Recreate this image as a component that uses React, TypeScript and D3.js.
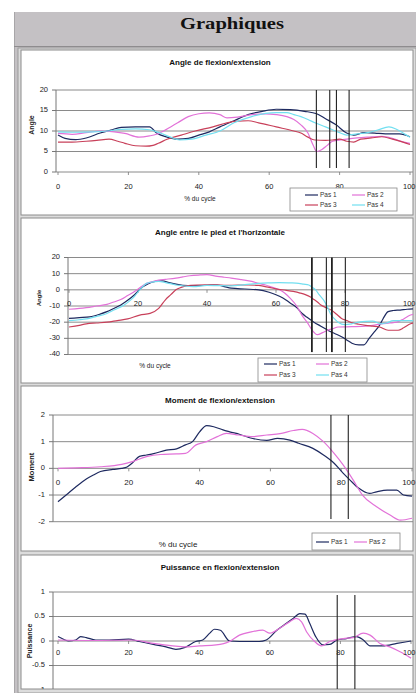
import React from "react";
import * as d3 from "d3";

// ---------- data ----------
const seriesNames = ["Pas 1", "Pas 2", "Pas 3", "Pas 4"];
const xTicks = [0, 20, 40, 60, 80, 100];

const flexPas1: [number, number][] = [[0,9],[2,8.2],[5,7.9],[8,8.3],[12,9.5],[15,10.2],[18,10.9],[22,11],[26,11],[28,9.5],[31,8.5],[34,8],[37,8.2],[40,9],[43,9.8],[46,11],[50,12.5],[54,14],[58,14.8],[62,15.3],[66,15.2],[70,14.8],[73.5,14.2],[76,13],[79,11.5],[82,9.5],[84,9],[87,9.6],[90,9.5],[93,9.3],[97,9.3],[100,8.6]];
const flexPas2: [number, number][] = [[0,9.4],[4,9.2],[8,9.6],[12,10],[16,9.8],[19,9.4],[23,8.5],[26,8.8],[28,9.2],[30,10],[32,11],[34,12],[37,13.5],[40,14.2],[43,14.4],[46,14],[48,13.2],[51,13.4],[55,14],[59,14.2],[62,14],[65,13.5],[67,12.8],[69,11.5],[71,9.5],[72.5,6.5],[73.5,5],[75,5.5],[76.5,6.5],[78,7.5],[82,8],[85,8.3],[88,8.5],[92,8.7],[95,8.2],[97,7.6],[100,7]];
const flexPas3: [number, number][] = [[0,7.3],[4,7.3],[8,7.5],[11,7.7],[14.5,8],[17,7.5],[19,7],[22,6.4],[25,6.3],[27,6.5],[28.5,7],[31,8],[35,9],[39,10],[44,11],[48,12],[51,12.4],[54,12.5],[57,12],[62,11],[67,10],[69,9.5],[71,8.5],[73,7.8],[76,7.7],[78,7.8],[80,8],[82,7.5],[84,7.3],[86,8],[89,8.3],[92,8.6],[95,8],[98,7.3],[100,6.7]];
const flexPas4: [number, number][] = [[0,9.8],[5,9.7],[10,9.8],[14,10],[18,10.4],[22,10.5],[26,10.3],[29,9.5],[32,8.5],[34.5,7.8],[38,8],[42,9],[46,10],[50,12],[55,13.5],[59,14.3],[62,14.5],[65,14.5],[67,14],[69,13.5],[71,12.8],[73,12],[76,11],[78,10.3],[80,9.6],[82,9],[85,9.3],[88,9.6],[91,10.3],[94,11],[96,10.5],[98,9.5],[100,8.5]];

const piedPas1: [number, number][] = [[0,-17.7],[3,-17.2],[6,-16.7],[9,-15],[11,-13.5],[13,-11.5],[15,-9.4],[17,-6.5],[19,-3],[21.5,2],[23,3.8],[25,5.2],[27,5.6],[29,4.5],[31,3.5],[33,2.8],[36,2.5],[40,2.8],[43,3],[45,2],[47,1],[51,0.5],[55,0],[58,-1.5],[60,-3],[62,-5],[64,-8],[66,-11],[67.5,-14.5],[69,-17],[71,-20],[73,-22.5],[75,-25],[77,-27],[79,-29],[80.5,-31],[82,-33],[84,-34],[85.5,-34],[87,-30],[88.5,-26],[90,-22],[91,-18],[92.5,-13.5],[94,-12.8],[96,-12.5],[98,-12],[100,-11.8]];
const piedPas2: [number, number][] = [[0,-12],[3,-11.5],[5,-11],[8,-10],[11,-9],[13,-7.5],[15,-6],[17,-3.5],[19,-1],[21,2],[22.5,4],[24,5],[26,6],[28,6.5],[31,7.3],[33,8],[35,8.7],[38,9.2],[40,9.4],[43,8.3],[45,7.8],[47,7.3],[50,6.3],[53,5.2],[55,4],[57,3],[59,1.5],[61,0],[62.5,-2],[64,-5],[66,-10],[67.5,-15.6],[69,-20],[70.5,-25],[72,-27.7],[73.5,-26.5],[75,-25],[76.5,-24],[78,-23],[82,-22.8],[86,-22.5],[88,-22],[90.5,-21],[93,-20.5],[95,-20],[97,-18],[99,-15.6],[100,-15]];
const piedPas3: [number, number][] = [[0,-23],[3,-22],[5,-21],[8,-20.5],[11,-20],[14,-19],[17,-18],[20.5,-15.6],[23.5,-14.6],[26,-11.5],[28,-6],[29.5,-3],[31,0],[32.5,1.5],[34,2.5],[37,3],[40,3.1],[43,3],[45.5,2.7],[49,3],[52,3],[55,2.7],[58,1.5],[60,0.6],[63,-0.3],[65,-1],[67,-2],[68.5,-3],[70,-4.5],[71,-6],[72,-7.5],[73,-9.4],[74.5,-11],[76,-12.5],[77.5,-15],[79,-17.7],[80.5,-19],[82,-20.4],[84,-21.3],[86,-22],[88,-22.5],[90,-23],[92.5,-25],[95.4,-25],[97,-23.5],[99,-21],[100,-20.5]];
const piedPas4: [number, number][] = [[0,-19],[3,-18.5],[5,-18],[8,-16.5],[11,-14.6],[13,-12.5],[16,-9.4],[17.5,-7],[19,-4],[20.5,0],[22.5,4],[24,4.8],[26,5.2],[28,4.5],[31,3],[33,2.5],[36,2],[40,2.7],[43,2.6],[47,2.5],[51,3.2],[55,4],[58,4.3],[61,4.5],[64,4.3],[66.6,4],[68,3.5],[69.5,3],[70.5,1.5],[71.5,0],[72.5,-3],[74,-7],[75,-11],[76,-15.6],[77,-18],[78,-20],[80,-21.5],[82,-21],[84,-20],[86,-19.5],[88,-19.4],[90.5,-21],[92,-20.5],[94,-19],[97,-19],[100,-19]];

const momentPas1: [number, number][] = [[0,-1.25],[2.3,-1],[5,-0.7],[8,-0.4],[10,-0.25],[12,-0.12],[15.5,-0.04],[18,0],[19.5,0.05],[21,0.2],[23,0.45],[25,0.5],[27,0.55],[30.6,0.68],[33.5,0.73],[36,0.88],[38,1],[40,1.37],[42,1.6],[44,1.56],[46.6,1.44],[48.5,1.37],[51.4,1.27],[55,1.12],[59,1.05],[62,1.12],[65.5,1.06],[68,0.94],[72,0.75],[75,0.5],[78,0.19],[80.6,-0.19],[82.5,-0.44],[85,-0.75],[88,-0.94],[90,-0.88],[93,-0.82],[95.7,-0.82],[97.6,-1],[100,-1.04]];
const momentPas2: [number, number][] = [[0,0],[5,0.02],[12,0.06],[18,0.15],[21,0.25],[25,0.44],[29,0.52],[33.5,0.54],[36,0.56],[39,0.88],[42,1],[45,1.19],[47.6,1.31],[51,1.25],[55,1.19],[59,1.25],[62.7,1.3],[66.5,1.42],[69,1.46],[72,1.31],[75,1],[78,0.56],[80.6,0.12],[83.4,-0.44],[86,-1],[90,-1.44],[93.8,-1.75],[96.7,-1.94],[100,-1.87]];

const puissPas1: [number, number][] = [[0,0.09],[1.7,0.03],[3,0],[5,0.02],[6.4,0.09],[8,0.07],[10.7,0.02],[14.5,0.02],[20,0.04],[23,-0.01],[27,-0.07],[30.6,-0.12],[33.4,-0.17],[36,-0.13],[39,-0.01],[41,0.02],[43,0.16],[44.3,0.24],[46,0.22],[48.6,0],[51.4,-0.01],[57,-0.01],[59,0.02],[62,0.22],[64.7,0.36],[66.6,0.46],[68.5,0.56],[70,0.55],[71.3,0.36],[73,0.09],[75,-0.08],[77,-0.07],[79,0.02],[81.7,0.05],[84.6,0.09],[86.5,0.02],[88.4,-0.1],[92,-0.1],[96,-0.05],[100,0]];
const puissPas2: [number, number][] = [[0,0.02],[10,0.01],[21,0.02],[27,-0.05],[32.5,-0.1],[36,-0.12],[40,-0.1],[44.8,-0.08],[48.6,-0.01],[51.4,0.12],[55,0.19],[58,0.22],[60,0.16],[62.8,0.26],[65.6,0.39],[67.5,0.46],[69,0.39],[70.4,0.19],[72.7,-0.01],[74.6,-0.1],[77,-0.01],[80.8,0.05],[83.6,0.07],[86.5,0.16],[88.4,0.12],[91.2,-0.05],[94,-0.12],[96.9,-0.22],[100,-0.35]];

const flexMarkers = [73.4, 77.2, 79.1, 82.7];
const piedMarkers = [70.4, 74.6, 76.2, 80.1];
const momentMarkers = [77.1, 82.0];
const puissMarkers = [79.1, 84.1];

const flexTicks = [0, 5, 10, 15, 20];
const piedTicks = [-40, -30, -20, -10, 0, 10, 20];
const momentTicks = [-2, -1, 0, 1, 2];
const puissTicks = [-1, -0.5, 0, 0.5, 1];

// ---------- styles ----------
const COLORS = ["#1e2a60", "#e272d8", "#c8405a", "#72dff0"];
const FONT = "Liberation Sans, Arial, sans-serif";

type PanelProps = {
  box: [number, number, number, number];
  title: string; titleY: number;
  axisX: number; xRange: [number, number]; right: number;
  yDomain: [number, number]; yRange: [number, number]; yTicks: number[];
  xLabelOffset: number; xLabelSize: number;
  series: [number, number][][];
  markers: number[]; markerSpan: [number, number]; markerWidths?: number[];
  xTitle?: { x: number; y: number; size: number };
  yTitle: { text: string; x: number; y: number; size: number };
  legend?: { x: number; y: number; w: number; h: number; cols: number[]; rows: number[] };
};

function Panel(p: PanelProps) {
  const x = d3.scaleLinear().domain([0, 100]).range(p.xRange);
  const y = d3.scaleLinear().domain(p.yDomain).range(p.yRange);
  const line = d3.line<[number, number]>().x(d => x(d[0])).y(d => y(d[1])).curve(d3.curveMonotoneX);
  const [bx, by, bw, bh] = p.box;
  const clipId = "clip" + Math.round(by);
  return (
    <g>
      <rect x={bx} y={by} width={bw} height={bh} fill="#fff" stroke="#8c8c8c" strokeWidth={1} />
      <defs>
        <clipPath id={clipId}><rect x={bx} y={by} width={bw} height={bh} /></clipPath>
      </defs>
      <text x={220} y={p.titleY} textAnchor="middle" dominantBaseline="middle" fontFamily={FONT} fontWeight="bold" fontSize={8} fill="#111">{p.title}</text>
      <g clipPath={`url(#${clipId})`}>
        {p.yTicks.map(t => (
          <g key={t}>
            <line x1={p.axisX} x2={p.right} y1={y(t)} y2={y(t)} stroke="#8a8a8a" strokeWidth={1} />
            <line x1={p.axisX - 4} x2={p.axisX} y1={y(t)} y2={y(t)} stroke="#555" strokeWidth={0.8} />
            <text x={p.axisX - 8} y={y(t)} textAnchor="end" dominantBaseline="middle" fontFamily={FONT} fontSize={7.5} fill="#222">{String(t)}</text>
          </g>
        ))}
        <line x1={p.axisX} x2={p.axisX} y1={y(p.yDomain[1])} y2={y(p.yDomain[0])} stroke="#777" strokeWidth={1} />
        {xTicks.map(t => (
          <line key={t} x1={x(t)} x2={x(t)} y1={y(0)} y2={y(0) + 3} stroke="#777" strokeWidth={0.8} />
        ))}
        {p.series.map((s, i) => (
          <path key={i} d={line(s) || ""} fill="none" stroke={COLORS[i]} strokeWidth={1.2} />
        ))}
        {p.markers.map((m, i) => (
          <line key={m} x1={x(m)} x2={x(m)} y1={y(p.markerSpan[0])} y2={y(p.markerSpan[1])} stroke="#222" strokeWidth={p.markerWidths ? p.markerWidths[i] : 1.1} />
        ))}
      </g>
      {xTicks.map(t => {
        const last = t === 100;
        return (
          <text key={t} x={last ? Math.min(x(t) + 6, 415.5) : x(t)} y={y(0) + p.xLabelOffset} textAnchor={last ? "end" : "middle"} dominantBaseline="middle" fontFamily={FONT} fontSize={p.xLabelSize} fill="#222">{t}</text>
        );
      })}
      {p.xTitle && (
        <text x={p.xTitle.x} y={p.xTitle.y} textAnchor="middle" dominantBaseline="middle" fontFamily={FONT} fontSize={p.xTitle.size} fill="#222">% du cycle</text>
      )}
      <text transform={`translate(${p.yTitle.x},${p.yTitle.y}) rotate(-90)`} textAnchor="middle" dominantBaseline="middle" fontFamily={FONT} fontWeight="bold" fontSize={p.yTitle.size} fill="#222">{p.yTitle.text}</text>
      {p.legend && (
        <g>
          <rect x={p.legend.x} y={p.legend.y} width={p.legend.w} height={p.legend.h} fill="#fff" stroke="#888" strokeWidth={0.8} />
          {p.series.map((_, i) => {
            const cx = p.legend!.cols[i % 2];
            const cy = p.legend!.rows[Math.floor(i / 2)];
            return (
              <g key={i}>
                <line x1={cx} x2={cx + 13} y1={cy} y2={cy} stroke={COLORS[i]} strokeWidth={1.2} />
                <text x={cx + 15} y={cy} dominantBaseline="middle" fontFamily={FONT} fontSize={6.5} fill="#333">{seriesNames[i]}</text>
              </g>
            );
          })}
        </g>
      )}
    </g>
  );
}

export default function App() {
  return (
    <svg width={416} height={693} style={{ position: "absolute", left: 0, top: 0, background: "#fff" }}>
      <rect x={14} y={12} width={402} height={681} fill="#c4c1c4" />
      <line x1={14.5} x2={14.5} y1={12} y2={693} stroke="#a8a6a8" />
      <text x={232} y={29} textAnchor="middle" fontFamily="Liberation Serif, Times New Roman, serif" fontWeight="bold" fontSize={17} textLength={104} lengthAdjust="spacingAndGlyphs" fill="#111">Graphiques</text>
      <line x1={14} x2={416} y1={46.5} y2={46.5} stroke="#8e8c8e" />
      <rect x={18} y={48} width={398} height={645} fill="#dcdcdc" stroke="#9a9a9a" strokeWidth={1} />
      <Panel
        box={[21, 50, 392, 165]} title="Angle de flexion/extension" titleY={63}
        axisX={56} xRange={[58, 410]} right={413}
        yDomain={[0, 20]} yRange={[172, 90]} yTicks={flexTicks}
        xLabelOffset={15} xLabelSize={7.5}
        series={[flexPas1, flexPas2, flexPas3, flexPas4]}
        markers={flexMarkers} markerSpan={[20, 1]}
        xTitle={{ x: 200, y: 199, size: 6.5 }}
        yTitle={{ text: "Angle", x: 32, y: 125, size: 7 }}
        legend={{ x: 290, y: 188, w: 107, h: 23, cols: [305, 352], rows: [195, 205] }}
      />
      <Panel
        box={[21, 218, 392, 165]} title="Angle entre le pied et l'horizontale" titleY={233}
        axisX={68} xRange={[69, 414]} right={413}
        yDomain={[-40, 20]} yRange={[354.5, 257.5]} yTicks={piedTicks}
        xLabelOffset={14} xLabelSize={7.5}
        series={[piedPas1, piedPas2, piedPas3, piedPas4]}
        markers={piedMarkers} markerSpan={[20, -38.5]} markerWidths={[1.8, 1.1, 1.8, 1.1]}
        xTitle={{ x: 155, y: 366, size: 6.5 }}
        yTitle={{ text: "Angle", x: 39.5, y: 298, size: 6 }}
        legend={{ x: 258, y: 358, w: 109, h: 24, cols: [264, 316], rows: [364, 375] }}
      />
      <Panel
        box={[21, 386, 392, 165]} title="Moment de flexion/extension" titleY={401}
        axisX={53} xRange={[58, 412]} right={413}
        yDomain={[-2, 2]} yRange={[521.7, 415]} yTicks={momentTicks}
        xLabelOffset={15} xLabelSize={8}
        series={[momentPas1, momentPas2]}
        markers={momentMarkers} markerSpan={[2, -1.9]}
        xTitle={{ x: 178, y: 545, size: 8 }}
        yTitle={{ text: "Moment", x: 32, y: 467, size: 7.5 }}
        legend={{ x: 312, y: 533, w: 88, h: 17, cols: [316, 354], rows: [542] }}
      />
      <Panel
        box={[21, 555, 392, 134]} title="Puissance en flexion/extension" titleY={568}
        axisX={53} xRange={[58, 411]} right={413}
        yDomain={[-1, 1]} yRange={[690, 592]} yTicks={puissTicks}
        xLabelOffset={12} xLabelSize={7.5}
        series={[puissPas1, puissPas2]}
        markers={puissMarkers} markerSpan={[0.94, -1]}
        yTitle={{ text: "Puissance", x: 30, y: 641, size: 7 }}
      />
    </svg>
  );
}
